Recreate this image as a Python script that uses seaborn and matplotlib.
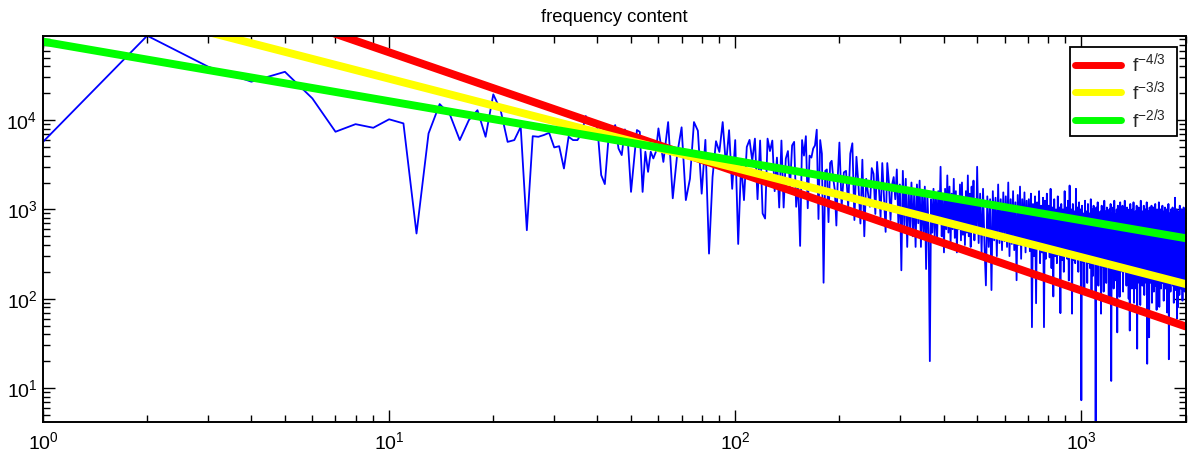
import numpy as np
import pandas as pd
import matplotlib
matplotlib.use("Agg")
import matplotlib.pyplot as plt
import seaborn as sns

# ---------------- data ----------------
# spectrum, f = 1..60 (every frequency)
spec_f1_60 = [5700, 88000, 39600, 26900, 34700, 17500, 7400, 9000, 8200, 10200,
              9180, 537, 7080, 15100, 11400, 5970, 10000, 12900, 6500, 19400,
              12900, 5700, 5970, 8400, 585, 6600, 6500, 6800, 7200, 4940,
              5100, 2870, 6500, 5970, 5970, 7070, 11100, 9180, 9570, 8070,
              2420, 1920, 5970, 7390, 8790, 4810, 4055, 7860, 5480, 1570,
              3560, 7730, 7390, 1570, 4420, 2630, 4420, 3720, 4420, 8070]
# spectrum, f = 62..200 (every 2nd frequency)
spec_f62_200 = [3400, 9500, 1330, 4200, 8300, 1270, 2200, 9500, 7600, 1500,
                6000, 320, 2300, 5800, 4400, 9500, 3100, 7700, 1700, 5970,
                410, 3300, 1270, 5000, 6000, 3500, 6200, 1300, 5900, 900,
                790, 6200, 4500, 5900, 1600, 3800, 1050, 5900, 1050, 3700,
                4500, 1800, 5200, 5700, 1070, 2000, 390, 5970, 4000, 6600,
                1030, 4000, 3800, 4800, 5200, 7800, 780, 5970, 4200, 151,
                2700, 2800, 720, 3300, 3500, 2200, 1640, 660, 2500, 5600]
# spectrum, f = 203..500 (every 3rd frequency)
spec_f203_500 = [1070, 2600, 2700, 1070, 4200, 5500, 760, 3880, 1900, 695,
                 3600, 500, 2200, 1500, 1070, 2900, 2500, 890, 3400, 1800,
                 820, 3300, 1400, 560, 3300, 2000, 760, 1900, 2300, 1300,
                 2800, 700, 1900, 208, 2700, 650, 2200, 380, 1700, 600,
                 2000, 500, 1600, 380, 1900, 700, 2100, 380, 1600, 550,
                 1800, 215, 1500, 600, 20, 1300, 550, 1700, 500, 1500,
                 450, 1600, 700, 3000, 500, 1400, 330, 1700, 600, 2400,
                 550, 1800, 400, 1500, 600, 2200, 480, 1600, 330, 1400,
                 600, 1900, 450, 2000, 520, 1300, 400, 1600, 550, 2400,
                 500, 1500, 380, 1800, 600, 2100, 450, 1300, 550, 3000]
# spectrum, f = 505..2000 (every 5th frequency)
spec_f505_2000 = [
    420, 1500, 330, 1700, 400, 141, 1400, 380, 1300, 125, 1600, 450, 1350, 300, 1900, 420, 1300, 350, 1550, 440,
    1400, 380, 2000, 300, 1300, 410, 1600, 350, 1200, 161, 1450, 400, 1800, 280, 1300, 420, 1550, 330, 1250, 390,
    1300, 340, 1500, 48, 1150, 300, 1400, 89, 1200, 360, 1600, 250, 1100, 330, 1350, 48, 1250, 280, 1500, 350,
    1100, 290, 1700, 220, 1050, 106, 1300, 300, 1000, 250, 1400, 310, 1050, 69, 1150, 270, 1000, 200, 1600, 300,
    1050, 280, 1250, 160, 1850, 300, 1000, 68, 1150, 270, 950, 250, 1700, 290, 1050, 200, 1200, 280, 1000, 7.3,
    1100, 260, 900, 130, 1250, 270, 950, 150, 1150, 250, 900, 220, 1300, 110, 1000, 180, 1100, 250, 900, 4.2,
    1050, 240, 1200, 140, 900, 250, 950, 68, 1100, 230, 880, 120, 1250, 240, 950, 150, 1050, 230, 870, 95,
    1000, 225, 1150, 12, 900, 230, 1050, 130, 1250, 220, 880, 160, 1000, 42, 1100, 215, 900, 105, 1200, 200,
    950, 210, 1100, 120, 860, 220, 1250, 200, 900, 140, 1050, 215, 850, 100, 1000, 44, 1150, 205, 880, 130,
    1000, 200, 1200, 90, 850, 210, 950, 130, 1100, 27.6, 880, 200, 1050, 150, 900, 85, 1250, 190, 860, 140,
    950, 195, 1100, 110, 840, 200, 1000, 150, 1200, 18.7, 880, 125, 950, 37, 1050, 190, 830, 150, 1100, 90,
    900, 185, 1050, 120, 820, 190, 1150, 140, 880, 75, 1000, 175, 830, 110, 1200, 81, 900, 185, 1000, 130,
    850, 180, 1100, 150, 820, 95, 950, 175, 1050, 130, 830, 180, 1000, 70, 880, 160, 1150, 21, 900, 175,
    820, 120, 1000, 160, 880, 180, 1050, 140, 810, 90, 950, 170, 1350, 125, 850, 165, 1000, 60, 830, 80,
    950, 170, 820, 110, 1100, 175, 860, 130, 1000, 170, 810, 95, 950, 150, 1050, 170, 830, 120, 900, 170]
segment_start = [1, 62, 203, 505]
segment_step = [1, 2, 3, 5]

# power-law reference lines (straight on log-log axes): end points
law_freq = [1, 2000]
law_red = [1236000, 49]      # f^-4/3
law_yellow = [290000, 146]   # f^-3/3
law_green = [75500, 476]     # f^-2/3
law_labels = [r"f$^{-4/3}$  ", r"f$^{-3/3}$  ", r"f$^{-2/3}$  "]

x_ticks = [1, 10, 100, 1000]
y_ticks = [10, 100, 1000, 10000]

# ---------------- assemble ----------------
freqs, vals = [], []
for seg, s0, st in zip([spec_f1_60, spec_f62_200, spec_f203_500, spec_f505_2000],
                       segment_start, segment_step):
    freqs.extend(list(s0 + st * np.arange(len(seg))))
    vals.extend(seg)
spec = pd.DataFrame({"f": np.array(freqs, dtype=float), "v": np.array(vals, dtype=float)})

sns.set_theme(style="white")
plt.rcParams["font.family"] = ["Liberation Sans", "DejaVu Sans"]
plt.rcParams["mathtext.fontset"] = "custom"
plt.rcParams["mathtext.rm"] = "Liberation Sans"
plt.rcParams["mathtext.it"] = "Liberation Sans"
plt.rcParams["mathtext.bf"] = "Liberation Sans:bold"

fig = plt.figure(figsize=(11.91, 4.59), dpi=100)
ax = fig.add_axes([0.0361, 0.0813, 0.9593, 0.8409])
ax.set_xscale("log")
ax.set_yscale("log")

sns.lineplot(data=spec, x="f", y="v", ax=ax, color="#0000ff", lw=1.3,
             estimator=None, sort=False, legend=False)
for yv, col, lab in zip([law_red, law_yellow, law_green],
                        ["#ff0000", "#ffff00", "#00ff00"], law_labels):
    sns.lineplot(x=law_freq, y=yv, ax=ax, color=col, lw=5.7, label=lab,
                 estimator=None, sort=False, solid_capstyle="round")

ax.set_xlim(1, 2000)
ax.set_ylim(spec["v"].min(), spec["v"].max())
ax.set_xticks(x_ticks)
ax.set_yticks(y_ticks)
ax.set_xlabel("")
ax.set_ylabel("")
ax.set_title("frequency content", fontsize=13.3, pad=10, color="black")

for sp in ax.spines.values():
    sp.set_visible(True)
    sp.set_color("black")
    sp.set_linewidth(1.4)
ax.tick_params(which="both", direction="in", top=True, right=True,
               bottom=True, left=True, color="black", width=1.0,
               labelsize=14, labelcolor="black")
ax.tick_params(which="major", length=8.5)
ax.tick_params(axis="x", which="major", pad=7)
ax.tick_params(axis="y", which="major", pad=4)
ax.tick_params(which="minor", length=4.8)
ax.minorticks_on()

leg = ax.legend(loc="upper right", bbox_to_anchor=(0.9928, 0.9715),
                borderaxespad=0, frameon=True, fancybox=False, shadow=False,
                fontsize=14, handlelength=2.4, handletextpad=0.55,
                labelspacing=0.2, borderpad=0.25)
leg.get_frame().set_edgecolor("black")
leg.get_frame().set_linewidth(1.3)
leg.get_frame().set_alpha(1)
for h in leg.get_lines():
    h.set_linewidth(5.0)

fig.savefig("out.png", dpi=100)
